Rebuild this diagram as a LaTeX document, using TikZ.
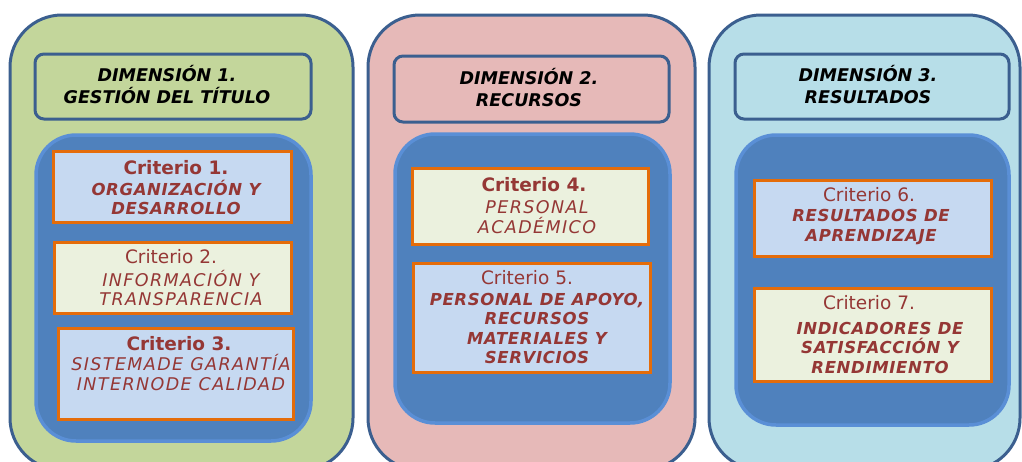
\documentclass[tikz,border=0pt]{standalone}
\usepackage{fontspec}
\setmainfont{DejaVu Sans}
\definecolor{pgreen}{HTML}{C3D69B}
\definecolor{ppink}{HTML}{E6B9B8}
\definecolor{pblue}{HTML}{B7DEE8}
\definecolor{outl}{HTML}{3B5F8F}
\definecolor{inner}{HTML}{4F81BD}
\definecolor{innerb}{HTML}{5A8FD6}
\definecolor{critblue}{HTML}{C6D9F1}
\definecolor{critcream}{HTML}{EBF1DE}
\definecolor{orng}{HTML}{E46C0A}
\definecolor{txtred}{HTML}{953735}
\tikzset{
  panel/.style={draw=outl, line width=3pt, rounded corners=52pt},
  titlebox/.style={draw=outl, line width=3pt, rounded corners=9pt},
  innerbox/.style={draw=innerb, fill=inner, line width=3.5pt, rounded corners=40pt},
  critbox/.style={draw=orng, line width=2.5pt},
  titletxt/.style={align=center, font=\fontsize{17.5}{22}\selectfont\bfseries\itshape, text=black, inner sep=0pt},
  headB/.style={align=center, font=\fontsize{18.5}{20}\selectfont\bfseries, text=txtred, inner sep=0pt},
  headR/.style={align=center, font=\fontsize{18.5}{20}\selectfont, text=txtred, inner sep=0pt},
  bodyB/.style={align=center, font=\addfontfeatures{LetterSpace=4}\fontsize{16.5}{19.5}\selectfont\bfseries\itshape, text=txtred, inner sep=0pt},
  bodyR/.style={align=center, font=\addfontfeatures{LetterSpace=8}\fontsize{17.5}{19.5}\selectfont\itshape, text=txtred, inner sep=0pt},
}
\begin{document}
\begin{tikzpicture}[x=1pt,y=-1pt]
\useasboundingbox (0,0) rectangle (1022,461);
\fill[white] (0,0) rectangle (1022,461);
\clip (0,0) rectangle (1022,461);
% panels
\draw[panel, fill=pgreen] (10,15) rectangle (353,470);
\draw[panel, fill=ppink] (368,15) rectangle (695,470);
\draw[panel, fill=pblue] (709,15) rectangle (1020,470);
% title boxes
\draw[titlebox, fill=pgreen] (35,54) rectangle (311,119);
\draw[titlebox, fill=ppink] (394,56) rectangle (669,122);
\draw[titlebox, fill=pblue] (735,54) rectangle (1009,119);
\node[titletxt] (t1) at (167,85) {DIMENSIÓN 1.\\GESTIÓN DEL TÍTULO};
\node[titletxt] (t2) at (529,88) {DIMENSIÓN 2.\\RECURSOS};
\node[titletxt] (t3) at (868,85) {DIMENSIÓN 3.\\RESULTADOS};
% inner boxes
\draw[innerbox] (36,135) rectangle (311,441);
\draw[innerbox] (395,134) rectangle (670,423);
\draw[innerbox] (736,135) rectangle (1009,425);
% criteria boxes
\node[critbox, fill=critblue, minimum width=238pt, minimum height=71pt] (c1) at (172.5,187) {};
\node[critbox, fill=critcream, minimum width=237pt, minimum height=71pt] (c2) at (173,278) {};
\node[critbox, fill=critblue, minimum width=235pt, minimum height=91pt] (c3) at (176,374) {};
\node[critbox, fill=critcream, minimum width=236pt, minimum height=76pt] (c4) at (530.5,206.5) {};
\node[critbox, fill=critblue, minimum width=237pt, minimum height=109pt] (c5) at (532,318) {};
\node[critbox, fill=critblue, minimum width=237pt, minimum height=76pt] (c6) at (873,218.5) {};
\node[critbox, fill=critcream, minimum width=237pt, minimum height=93pt] (c7) at (873,335) {};
% texts
\node[headB] (h1) at (176,168) {Criterio 1.};
\node[bodyB] (b1) at (176,197.5) {ORGANIZACIÓN Y\\DESARROLLO};
\node[headR] (h2) at (171,257) {Criterio 2.};
\node[bodyR] (b2) at (181,288) {INFORMACIÓN Y\\TRANSPARENCIA};
\node[headB] (h3) at (179,344) {Criterio 3.};
\node[bodyR] (b3) at (181,372.5) {SISTEMADE GARANTÍA\\INTERNODE CALIDAD};
\node[headB] (h4) at (534,185) {Criterio 4.};
\node[bodyR] (b4) at (537,217) {PERSONAL\\ACADÉMICO};
\node[headR] (h5) at (527,278) {Criterio 5.};
\node[bodyB] (b5) at (537,328.5) {PERSONAL DE APOYO,\\RECURSOS\\MATERIALES Y\\SERVICIOS};
\node[headR] (h6) at (869,195) {Criterio 6.};
\node[bodyB] (b6) at (871,227) {RESULTADOS DE\\APRENDIZAJE};
\node[headR] (h7) at (869,303) {Criterio 7.};
\node[bodyB] (b7) at (880,347.5) {INDICADORES DE\\SATISFACCIÓN Y\\RENDIMIENTO};
\end{tikzpicture}
\end{document}
